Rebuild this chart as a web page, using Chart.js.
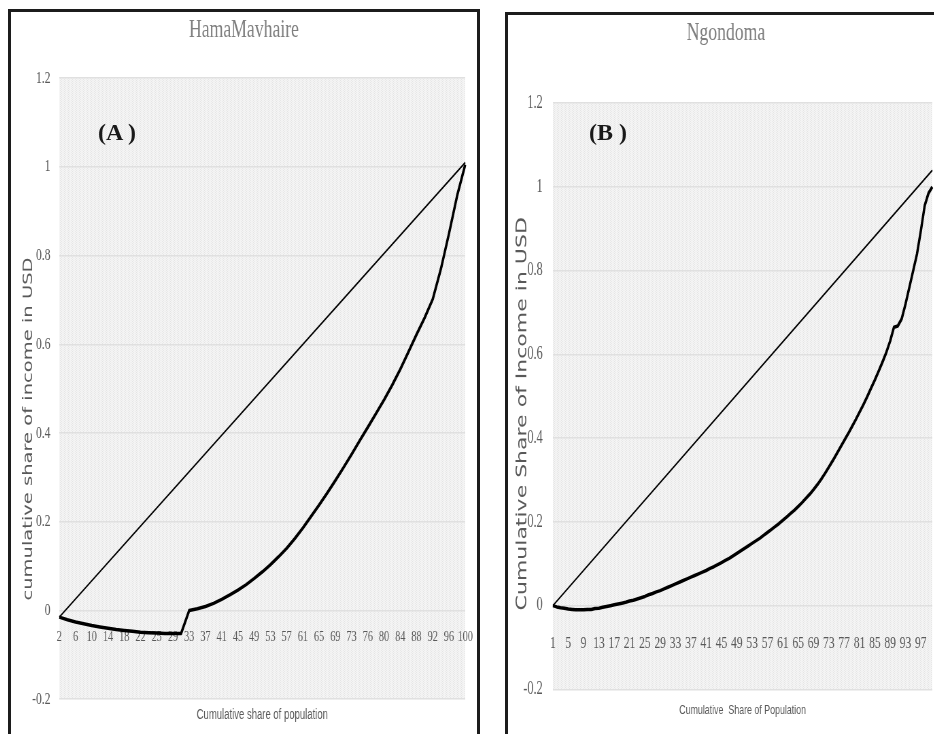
<!DOCTYPE html>
<html>
<head>
<meta charset="utf-8">
<title>Lorenz curves</title>
<script src="https://cdn.jsdelivr.net/npm/chart.js@4.4.1/dist/chart.umd.min.js"></script>
<style>
  body { margin:0; width:934px; height:734px; overflow:hidden; background:#fff; position:relative; }
  .panel { position:absolute; border:3px solid #1c1c1c; background:#fff; overflow:hidden; }
  #panelA { left:8px; top:9px; width:466px; height:760px; }
  #panelB { left:505px; top:12px; width:480px; height:760px; }
  .squash { transform:scaleX(0.68); transform-origin:0 0; }
  .tag { position:absolute; font:bold 24px "Liberation Serif", serif; line-height:24px; color:#1a1a1a; white-space:pre; }
</style>
</head>
<body>
<div class="panel" id="panelA"><div class="squash"><canvas id="chartA" width="685" height="722"></canvas></div></div>
<div class="panel" id="panelB"><div class="squash"><canvas id="chartB" width="654" height="719"></canvas></div></div>
<div class="tag" style="left:98px;top:120px;">(A )</div>
<div class="tag" style="left:589px;top:120px;">(B )</div>
<script>
// ---- HamaMavhaire (A) ----
var catsA = ['2','4','6','8','10','12','14','16','18','20','22','24','25','27','29','31','33','35','37','39',
  '41','43','45','47','49','51','53','55','57','59','61','63','65','67','69','71','73','75','76','78',
  '80','82','84','86','88','90','92','94','96','98','100'];
var lorenzA = [-0.015,-0.021,-0.026,-0.030,-0.034,-0.037,-0.040,-0.043,-0.045,-0.047,
  -0.049,-0.050,-0.051,-0.052,-0.052,-0.052,0.000,0.004,0.009,0.016,
  0.025,0.035,0.046,0.058,0.072,0.087,0.103,0.121,0.140,0.162,
  0.186,0.212,0.238,0.265,0.293,0.322,0.352,0.383,0.413,0.444,
  0.475,0.508,0.544,0.583,0.622,0.660,0.702,0.770,0.850,0.935,1.005];
var equalityA = [-0.015, 1.01];
var shownA = ['2','6','10','14','18','22','25','29','33','37','41','45','49','53','57','61','65','69','73','76','80','84','88','92','96','100'];

// ---- Ngondoma (B) ----
var catsB = ['1','2','3','4','5','6','7','8','9','10','11','12','13','14','15','16','17','18','19','20',
  '21','22','23','24','25','26','27','28','29','30','31','32','33','34','35','36','37','38','39','40',
  '41','42','43','44','45','46','47','48','49','50','51','52','53','54','55','56','57','58','59','60',
  '61','62','63','64','65','66','67','68','69','70','71','72','73','74','75','76','77','78','79','80',
  '81','82','83','84','85','86','87','88','89','90','91','92','93','94','95','96','97','98','99','100'];
var lorenzB = [0.000,-0.003,-0.005,-0.006,-0.008,-0.009,-0.010,-0.010,-0.010,-0.009,
  -0.009,-0.007,-0.006,-0.004,-0.002,0.000,0.002,0.004,0.006,0.008,
  0.011,0.013,0.016,0.019,0.022,0.026,0.029,0.033,0.036,0.040,
  0.044,0.048,0.052,0.056,0.060,0.064,0.068,0.072,0.076,0.080,
  0.084,0.089,0.093,0.098,0.103,0.108,0.113,0.119,0.125,0.131,
  0.137,0.143,0.149,0.155,0.161,0.168,0.175,0.182,0.189,0.196,
  0.204,0.212,0.220,0.228,0.237,0.246,0.256,0.266,0.277,0.289,
  0.302,0.316,0.331,0.346,0.362,0.378,0.394,0.410,0.427,0.444,
  0.462,0.480,0.499,0.519,0.539,0.560,0.582,0.605,0.632,0.665,
  0.668,0.685,0.720,0.760,0.800,0.840,0.895,0.955,0.985,1.000];
var equalityB = [0, 1.04];
var shownB = ['1','5','9','13','17','21','25','29','33','37','41','45','49','53','57','61','65','69','73','77','81','85','89','93','97'];

var yTicks = [-0.2, 0, 0.2, 0.4, 0.6, 0.8, 1, 1.2];

// textured grey plot area like the excel fill
function hatch() {
  var c = document.createElement('canvas');
  c.width = 4; c.height = 4;
  var g = c.getContext('2d');
  g.fillStyle = '#f4f4f4'; g.fillRect(0, 0, 4, 4);
  g.fillStyle = '#e4e4e4';
  g.fillRect(0, 0, 1, 1); g.fillRect(2, 1, 1, 1); g.fillRect(0, 2, 1, 1); g.fillRect(2, 3, 1, 1);
  return c;
}
var plotBg = {
  id: 'plotBg',
  beforeDraw: function(chart) {
    var a = chart.chartArea, ctx = chart.ctx;
    ctx.save();
    ctx.fillStyle = ctx.createPattern(hatch(), 'repeat');
    ctx.fillRect(a.left, a.top, a.width, a.height);
    ctx.restore();
  }
};

function drawLorenz(el, c) {
  return new Chart(el, {
    type: 'line',
    data: {
      labels: c.cats,
      datasets: [{
        data: c.lorenz, xAxisID: 'x', borderColor: '#000', borderWidth: 3.5,
        pointRadius: 0, tension: 0, borderJoinStyle: 'round'
      }, {
        data: [{x: c.cats[0], y: c.equality[0]}, {x: c.cats[c.cats.length - 1], y: c.equality[1]}],
        xAxisID: 'x', borderColor: '#000', borderWidth: 1.8, pointRadius: 0
      }]
    },
    options: {
      responsive: false,
      animation: false,
      layout: { autoPadding: false, padding: { left: c.padLeft, right: c.padRight, top: 0, bottom: 0 } },
      plugins: {
        legend: { display: false },
        tooltip: { enabled: false },
        title: {
          display: true, text: c.title, color: '#7f7f7f',
          font: { family: "'Liberation Serif', serif", size: 26, weight: 'normal' },
          padding: { top: c.titleTop, bottom: c.titleBottom }
        }
      },
      scales: {
        x: {
          type: 'category', position: { y: 0 }, offset: false,
          // invisible tick marks give the gap under the zero line
          grid: { display: false, drawTicks: true, tickLength: c.xTickGap }, border: { display: false },
          ticks: {
            autoSkip: false, maxRotation: 0, minRotation: 0, padding: 0, color: '#595959',
            font: { family: "'Liberation Serif', serif", size: c.xTickSize },
            callback: function(v) {
              var l = this.getLabelForValue(v);
              return c.shown.indexOf(l) >= 0 ? l : '';
            }
          }
        },
        x2: {
          type: 'category', position: 'bottom', offset: false,
          grid: { display: false, drawTicks: false }, border: { display: false },
          ticks: { display: false },
          title: {
            display: true, text: c.xTitle, color: '#595959',
            font: { family: "'Liberation Sans', sans-serif", size: c.xTitleSize },
            padding: { top: c.xTitleTop, bottom: c.xTitleBottom }
          }
        },
        y: {
          min: yTicks[0], max: yTicks[yTicks.length - 1],
          border: { display: false },
          grid: { color: '#e0e0e0', lineWidth: 1.5, drawTicks: false },
          ticks: {
            stepSize: 0.2, padding: c.yTickPad, color: '#595959',
            font: { family: "'Liberation Serif', serif", size: c.yTickSize },
            callback: function(v) { return String(Math.round(v * 10) / 10); }
          },
          title: {
            // trailing spaces push the centred title down the axis, as in the original
            display: true, text: c.yTitle + ' '.repeat(c.yTitleShift), color: '#595959',
            font: { family: "'DejaVu Sans', sans-serif", size: c.yTitleSize },
            padding: { top: c.yTitleTop, bottom: 0 }
          },
          afterFit: function(s) { s.width = c.yWidth; }
        }
      }
    },
    plugins: [plotBg]
  });
}

drawLorenz(document.getElementById('chartA'), {
  cats: catsA, lorenz: lorenzA, equality: equalityA, shown: shownA,
  title: 'HamaMavhaire', titleTop: 3, titleBottom: 32,
  xTitle: 'Cumulative share of population', xTitleSize: 14, xTitleTop: 8, xTitleBottom: 10,
  yTitle: 'cumulative share of income in USD', yTitleSize: 19.5, yTitleTop: -3, yTitleShift: 13,
  xTickSize: 15, xTickGap: 18, yTickSize: 17, yTickPad: 13,
  yWidth: 54, padLeft: 17, padRight: 17
});

drawLorenz(document.getElementById('chartB'), {
  cats: catsB, lorenz: lorenzB, equality: equalityB, shown: shownB,
  title: 'Ngondoma', titleTop: 3, titleBottom: 54,
  xTitle: 'Cumulative  Share of Population', xTitleSize: 13, xTitleTop: 13, xTitleBottom: 16,
  yTitle: 'Cumulative Share of Income in USD', yTitleSize: 22, yTitleTop: -9, yTitleShift: 5,
  xTickSize: 17, xTickGap: 28, yTickSize: 18, yTickPad: 15,
  yWidth: 49, padLeft: 17, padRight: 30
});
</script>
</body>
</html>
